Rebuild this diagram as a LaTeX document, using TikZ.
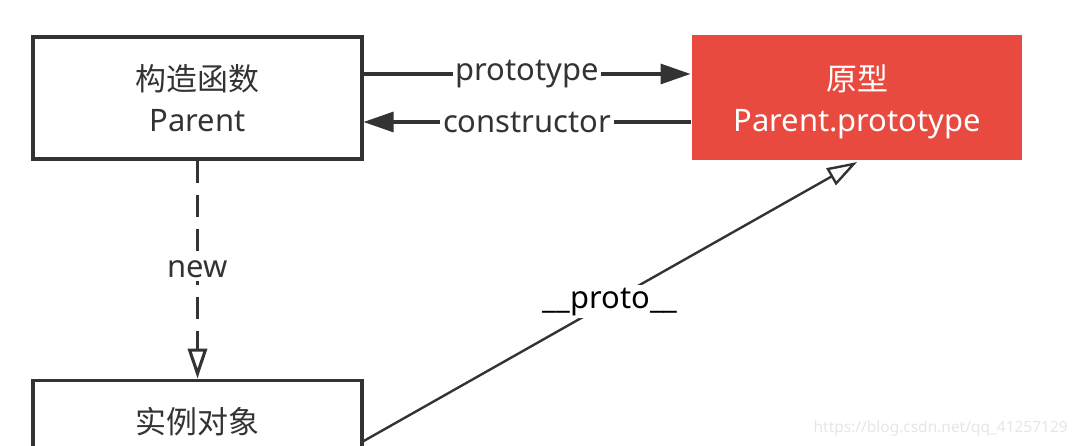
\documentclass[tikz,border=0pt]{standalone}
\usepackage{fontspec}
\setmainfont{Noto Sans}
\newfontfamily\cjk{Noto Sans CJK SC}
\usepackage{tikz}
\usetikzlibrary{arrows.meta, positioning, calc}
\definecolor{linegray}{HTML}{333333}
\definecolor{protored}{HTML}{E84A3F}
\definecolor{markgray}{HTML}{E6E6E6}

\begin{document}
\begin{tikzpicture}[
					box/.style={draw=linegray, line width=2.2pt, align=center,
						minimum width=8.225cm, minimum height=3.05cm, inner sep=0pt,
						text=linegray, font=\fontsize{22}{29}\selectfont},
					redbox/.style={box, draw=none, fill=protored, text=white,
						minimum width=8.25cm, minimum height=3.125cm, text depth=0pt},
					link/.style={draw=linegray, line width=2.2pt},
					tip/.style={-{Triangle[length=0.75cm, width=0.5cm]}},
					opentip/.style={-{Triangle[open, length=0.75cm, width=0.48cm]}},
					lbl/.style={fill=white, text=linegray, inner sep=2pt,
						font=\fontsize{22}{26}\selectfont},
					node distance=5.45cm and 8.175cm]
				\useasboundingbox (0,0) rectangle (26.95,-11.15);
				\clip (0,0) rectangle (26.95,-11.15);
				\node[box]                      (parent) at (4.9375,-2.45) {{\cjk 构造函数}\\Parent};
				\node[redbox, right =of parent] (proto)  {{\cjk 原型}\\Parent.prototype};
				\node[box, below =of parent, minimum height=2.1cm] (inst) {\cjk 实例对象};

				\draw[link, tip] ([yshift=0.6cm]parent.east)
					-- node[lbl] {prototype} ([yshift=0.6cm]parent.east -| proto.west);
				\draw[link, tip] ([yshift=-0.6cm]proto.west)
					-- node[lbl] {constructor} ([yshift=-0.6cm]proto.west -| parent.east);
				\draw[link, opentip, dash pattern=on 0.55cm off 0.3cm] (parent)
					-- node[lbl] {new} (inst);
				\draw[link, opentip, line width=1.7pt] ([yshift=-0.475cm]inst.east)
					-- node[lbl, text=black] {\_\_proto\_\_} (proto.south);

				% watermark
				\node[anchor=east, inner sep=0pt, text=markgray,
					font=\fontsize{11}{13}\selectfont] (mark) at (26.7,-10.7)
					{https://blog.csdn.net/qq\_41257129};
			\end{tikzpicture}
\end{document}
